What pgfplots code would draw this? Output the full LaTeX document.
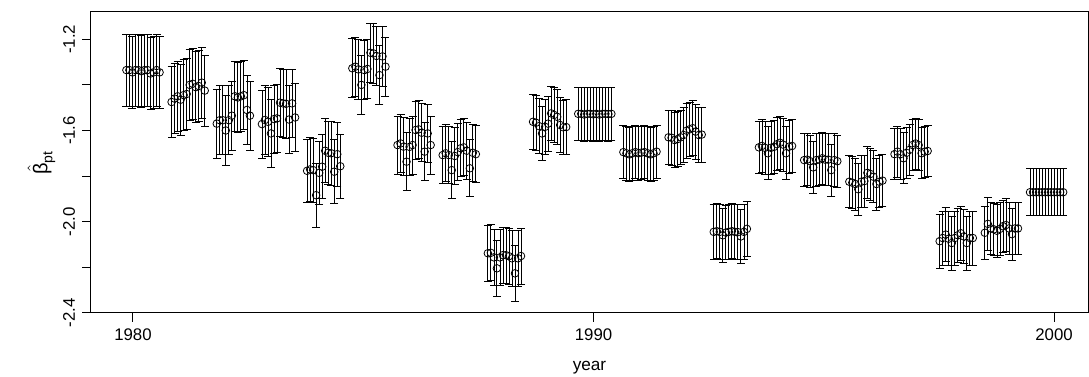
\documentclass[border=0pt]{standalone}
\usepackage{pgfplots}
\pgfplotsset{compat=1.18}
\usepackage{amsmath}
\usepackage{fontspec}
\setmainfont{Liberation Sans}
\pgfplotsset{clu/.style={only marks, mark=o, mark size=1.9pt, black,
  mark options={line width=0.4pt, black, solid},
  error bars/.cd, y dir=both, y fixed=#1,
  error bar style={line width=0.4pt, black, solid},
  error mark options={rotate=90, black, mark size=2pt, line width=0.4pt, solid}}}
\begin{document}
\begin{tikzpicture}
\begin{axis}[name=ax, scale only axis, width=498.5pt, height=150.5pt,
  xmin=1979.088, xmax=2000.738, ymin=-2.401, ymax=-1.080,
  axis line style={line width=0.5pt, black},
  tick style={line width=0.5pt, black}, tick align=outside,
  major tick length=4.5pt,
  xtick={1980,1990,2000}, xticklabels={1980,1990,2000},
  ytick={-2.4,-2.2,-2.0,-1.8,-1.6,-1.4,-1.2},
  yticklabels={-2.4,,-2.0,,-1.6,,-1.2},
  xtick pos=bottom, ytick pos=left,
  /pgf/number format/assume math mode=true,
  every tick label/.append style={font=\fontsize{8.4}{10}\selectfont},
  yticklabel style={rotate=90, anchor=south},
  xlabel={year}, ylabel={$\hat{\text{β}}_{\text{pt}}$},
  every axis label/.append style={font=\fontsize{8.6}{10}\selectfont},
  xlabel style={yshift=-3.5pt},
  ylabel style={yshift=-3pt, font=\fontsize{10}{12}\selectfont},
  clip=false]
\addplot[clu=0.158] table[row sep=\\]{x y\\
1979.857 -1.335\\ 1979.922 -1.335\\ 1979.988 -1.345\\ 1980.053 -1.335\\ 1980.119 -1.335\\ 1980.184 -1.340\\
1980.250 -1.335\\ 1980.315 -1.335\\ 1980.381 -1.350\\ 1980.446 -1.345\\ 1980.512 -1.335\\ 1980.577 -1.345\\};
\addplot[clu=0.155] table[row sep=\\]{x y\\
1980.838 -1.475\\ 1980.903 -1.460\\ 1980.969 -1.450\\ 1981.034 -1.465\\ 1981.100 -1.445\\ 1981.165 -1.440\\
1981.231 -1.400\\ 1981.296 -1.395\\ 1981.362 -1.410\\ 1981.427 -1.405\\ 1981.493 -1.390\\ 1981.558 -1.425\\};
\addplot[clu=0.152] table[row sep=\\]{x y\\
1981.819 -1.570\\ 1981.884 -1.555\\ 1981.950 -1.555\\ 1982.015 -1.600\\ 1982.081 -1.555\\ 1982.146 -1.535\\
1982.212 -1.450\\ 1982.277 -1.455\\ 1982.343 -1.450\\ 1982.408 -1.445\\ 1982.474 -1.510\\ 1982.539 -1.535\\};
\addplot[clu=0.150] table[row sep=\\]{x y\\
1982.800 -1.572\\ 1982.865 -1.554\\ 1982.931 -1.562\\ 1982.996 -1.613\\ 1983.062 -1.550\\ 1983.127 -1.547\\
1983.193 -1.478\\ 1983.258 -1.481\\ 1983.324 -1.483\\ 1983.389 -1.552\\ 1983.455 -1.481\\ 1983.520 -1.543\\};
\addplot[clu=0.140] table[row sep=\\]{x y\\
1983.781 -1.777\\ 1983.846 -1.771\\ 1983.912 -1.774\\ 1983.977 -1.884\\ 1984.043 -1.786\\ 1984.108 -1.759\\
1984.174 -1.689\\ 1984.239 -1.698\\ 1984.305 -1.700\\ 1984.370 -1.781\\ 1984.436 -1.704\\ 1984.501 -1.757\\};
\addplot[clu=0.130] table[row sep=\\]{x y\\
1984.763 -1.327\\ 1984.828 -1.320\\ 1984.894 -1.332\\ 1984.959 -1.400\\ 1985.025 -1.335\\ 1985.090 -1.330\\
1985.156 -1.259\\ 1985.221 -1.262\\ 1985.287 -1.273\\ 1985.352 -1.357\\ 1985.418 -1.275\\ 1985.483 -1.320\\};
\addplot[clu=0.127] table[row sep=\\]{x y\\
1985.744 -1.664\\ 1985.809 -1.657\\ 1985.875 -1.671\\ 1985.940 -1.737\\ 1986.006 -1.672\\ 1986.071 -1.664\\
1986.137 -1.598\\ 1986.202 -1.595\\ 1986.268 -1.610\\ 1986.333 -1.693\\ 1986.399 -1.613\\ 1986.464 -1.664\\};
\addplot[clu=0.125] table[row sep=\\]{x y\\
1986.725 -1.708\\ 1986.790 -1.700\\ 1986.856 -1.708\\ 1986.921 -1.774\\ 1986.987 -1.712\\ 1987.052 -1.695\\
1987.118 -1.678\\ 1987.183 -1.674\\ 1987.249 -1.689\\ 1987.314 -1.766\\ 1987.380 -1.698\\ 1987.445 -1.704\\};
\addplot[clu=0.123] table[row sep=\\]{x y\\
1987.706 -2.139\\ 1987.771 -2.137\\ 1987.837 -2.157\\ 1987.902 -2.205\\ 1987.968 -2.157\\ 1988.033 -2.147\\
1988.099 -2.147\\ 1988.164 -2.152\\ 1988.230 -2.161\\ 1988.295 -2.227\\ 1988.361 -2.161\\ 1988.426 -2.151\\};
\addplot[clu=0.120] table[row sep=\\]{x y\\
1988.687 -1.562\\ 1988.752 -1.566\\ 1988.818 -1.581\\ 1988.883 -1.613\\ 1988.949 -1.584\\ 1989.014 -1.570\\
1989.080 -1.525\\ 1989.145 -1.532\\ 1989.211 -1.540\\ 1989.276 -1.576\\ 1989.342 -1.586\\ 1989.407 -1.585\\};
\addplot[clu=0.118] table[row sep=\\]{x y\\
1989.668 -1.527\\ 1989.733 -1.527\\ 1989.799 -1.530\\ 1989.864 -1.527\\ 1989.930 -1.527\\ 1989.995 -1.529\\
1990.061 -1.527\\ 1990.126 -1.530\\ 1990.192 -1.527\\ 1990.257 -1.527\\ 1990.323 -1.528\\ 1990.388 -1.527\\};
\addplot[clu=0.117] table[row sep=\\]{x y\\
1990.649 -1.695\\ 1990.714 -1.700\\ 1990.780 -1.705\\ 1990.845 -1.700\\ 1990.911 -1.695\\ 1990.976 -1.700\\
1991.042 -1.697\\ 1991.107 -1.695\\ 1991.173 -1.700\\ 1991.238 -1.705\\ 1991.304 -1.700\\ 1991.369 -1.693\\};
\addplot[clu=0.120] table[row sep=\\]{x y\\
1991.630 -1.630\\ 1991.695 -1.632\\ 1991.761 -1.642\\ 1991.826 -1.638\\ 1991.892 -1.630\\ 1991.957 -1.620\\
1992.023 -1.601\\ 1992.088 -1.595\\ 1992.154 -1.590\\ 1992.219 -1.605\\ 1992.285 -1.620\\ 1992.350 -1.618\\};
\addplot[clu=0.120] table[row sep=\\]{x y\\
1992.611 -2.045\\ 1992.676 -2.042\\ 1992.742 -2.045\\ 1992.807 -2.060\\ 1992.873 -2.048\\ 1992.938 -2.045\\
1993.004 -2.042\\ 1993.069 -2.045\\ 1993.135 -2.046\\ 1993.200 -2.065\\ 1993.266 -2.045\\ 1993.331 -2.032\\};
\addplot[clu=0.116] table[row sep=\\]{x y\\
1993.592 -1.674\\ 1993.657 -1.668\\ 1993.723 -1.676\\ 1993.788 -1.700\\ 1993.854 -1.676\\ 1993.919 -1.672\\
1993.985 -1.660\\ 1994.050 -1.654\\ 1994.116 -1.662\\ 1994.181 -1.700\\ 1994.247 -1.671\\ 1994.312 -1.668\\};
\addplot[clu=0.115] table[row sep=\\]{x y\\
1994.574 -1.730\\ 1994.639 -1.728\\ 1994.705 -1.735\\ 1994.770 -1.762\\ 1994.836 -1.730\\ 1994.901 -1.728\\
1994.967 -1.722\\ 1995.032 -1.728\\ 1995.098 -1.728\\ 1995.163 -1.774\\ 1995.229 -1.730\\ 1995.294 -1.735\\};
\addplot[clu=0.114] table[row sep=\\]{x y\\
1995.555 -1.825\\ 1995.620 -1.829\\ 1995.686 -1.835\\ 1995.751 -1.858\\ 1995.817 -1.825\\ 1995.882 -1.822\\
1995.948 -1.786\\ 1996.013 -1.791\\ 1996.079 -1.803\\ 1996.144 -1.835\\ 1996.210 -1.825\\ 1996.275 -1.820\\};
\addplot[clu=0.112] table[row sep=\\]{x y\\
1996.536 -1.704\\ 1996.601 -1.693\\ 1996.667 -1.704\\ 1996.732 -1.722\\ 1996.798 -1.698\\ 1996.863 -1.685\\
1996.929 -1.664\\ 1996.994 -1.657\\ 1997.060 -1.664\\ 1997.125 -1.700\\ 1997.191 -1.693\\ 1997.256 -1.690\\};
\addplot[clu=0.118] table[row sep=\\]{x y\\
1997.517 -2.086\\ 1997.582 -2.072\\ 1997.648 -2.057\\ 1997.713 -2.075\\ 1997.779 -2.094\\ 1997.844 -2.072\\
1997.910 -2.060\\ 1997.975 -2.051\\ 1998.041 -2.065\\ 1998.106 -2.094\\ 1998.172 -2.072\\ 1998.237 -2.072\\};
\addplot[clu=0.115] table[row sep=\\]{x y\\
1998.498 -2.049\\ 1998.563 -2.010\\ 1998.629 -2.030\\ 1998.694 -2.034\\ 1998.760 -2.040\\ 1998.825 -2.032\\
1998.891 -2.020\\ 1998.956 -2.015\\ 1999.022 -2.030\\ 1999.087 -2.055\\ 1999.153 -2.030\\ 1999.218 -2.030\\};
\addplot[clu=0.103] table[row sep=\\]{x y\\
1999.479 -1.871\\ 1999.544 -1.871\\ 1999.610 -1.871\\ 1999.675 -1.871\\ 1999.741 -1.871\\ 1999.806 -1.871\\
1999.872 -1.871\\ 1999.937 -1.871\\ 2000.003 -1.871\\ 2000.068 -1.871\\ 2000.134 -1.871\\ 2000.199 -1.871\\};
\end{axis}
\pgfresetboundingbox
\path[use as bounding box] ([xshift=-45.5pt,yshift=-32pt]ax.south west) rectangle ([xshift=0.5pt,yshift=6pt]ax.north east);
\end{tikzpicture}
\end{document}
